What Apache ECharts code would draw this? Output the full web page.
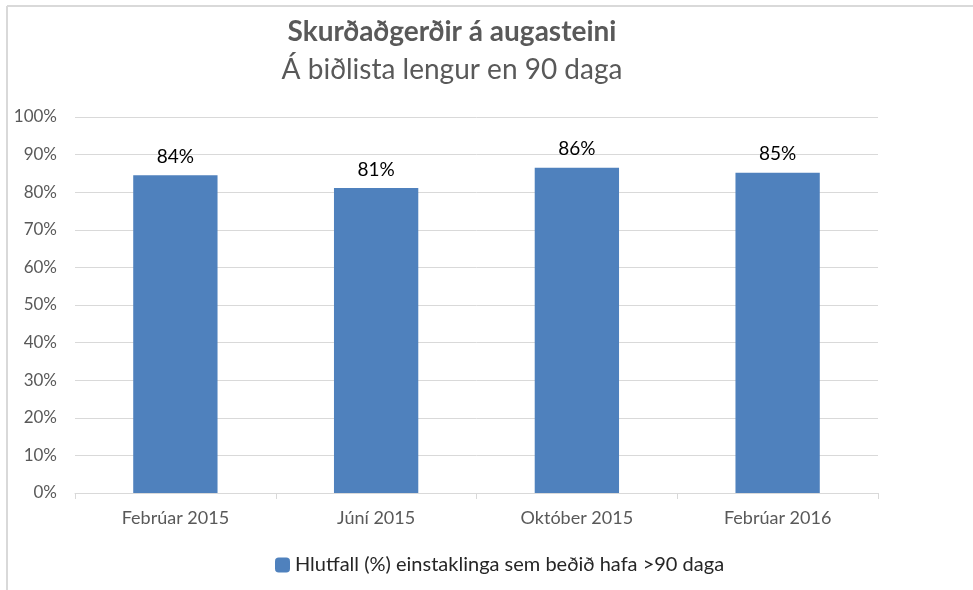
<!DOCTYPE html>
<html>
<head>
<meta charset="utf-8">
<script src="https://cdn.jsdelivr.net/npm/echarts@6/dist/echarts.min.js"></script>
<style>
	html, body { margin: 0; padding: 0; background: #fff; }
	#chart { width: 973px; height: 590px; }
</style>
</head>
<body>
<div id="chart"></div>
<script>
	// data
	var categories = [ 'Febrúar 2015', 'Júní 2015', 'Október 2015', 'Febrúar 2016' ];
	var shareOver90 = [ 84.5, 81.1, 86.5, 85.2 ];
	var seriesName = 'Hlutfall (%) einstaklinga sem beðið hafa >90 daga';
	var titleText = 'Skurðaðgerðir á augasteini';
	var subtitleText = 'Á biðlista lengur en 90 daga';

	var font = 'Lato, "Open Sans", sans-serif';
	var gray = '#595959';
	var lineGray = '#d9d9d9';

	var myChart = echarts.init(document.getElementById('chart'));
	var option = {
		backgroundColor : '#fff',
		textStyle : {
			fontFamily : font
		},
		// frame of the original chart, only top and left edges are visible
		graphic : [ {
			type : 'line',
			shape : { x1 : 7, y1 : 6, x2 : 973, y2 : 6 },
			style : { stroke : lineGray, lineWidth : 2 }
		}, {
			type : 'line',
			shape : { x1 : 7, y1 : 6, x2 : 7, y2 : 590 },
			style : { stroke : lineGray, lineWidth : 2 }
		} ],
		title : [ {
			text : titleText,
			left : 447,
			top : 13,
			textAlign : 'center',
			textStyle : {
				fontFamily : font,
				fontSize : 28,
				fontWeight : 'bold',
				color : gray
			}
		}, {
			text : subtitleText,
			left : 447,
			top : 51,
			textAlign : 'center',
			textStyle : {
				fontFamily : font,
				fontSize : 28,
				fontWeight : 'normal',
				color : gray
			}
		} ],
		legend : {
			left : 270,
			top : 550,
			itemWidth : 15,
			itemHeight : 15,
			icon : 'roundRect',
			textStyle : {
				fontFamily : font,
				fontSize : 20,
				color : '#262626'
			},
			data : [ seriesName ]
		},
		grid : {
			left : 75,
			right : 95,
			top : 117,
			bottom : 97
		},
		xAxis : {
			type : 'category',
			data : categories,
			axisLine : { lineStyle : { color : lineGray, width : 1 } },
			axisTick : { show : true, length : 6, lineStyle : { color : lineGray } },
			axisLabel : {
				color : gray,
				fontSize : 18,
				margin : 16,
				fontFamily : font
			}
		},
		yAxis : {
			type : 'value',
			min : 0,
			max : 100,
			interval : 10,
			axisLine : { show : false },
			axisTick : { show : false },
			splitLine : { lineStyle : { color : lineGray, width : 1 } },
			axisLabel : {
				color : gray,
				fontSize : 17,
				margin : 18,
				fontFamily : font,
				formatter : '{value}%'
			}
		},
		series : [ {
			name : seriesName,
			type : 'bar',
			data : shareOver90,
			barWidth : '42%',
			itemStyle : { color : '#4f81bd' },
			label : {
				show : true,
				position : 'top',
				distance : 9,
				fontSize : 19,
				color : '#000',
				fontFamily : font,
				formatter : function(p) {
					return Math.floor(p.value) + '%';
				}
			}
		} ]
	};
	myChart.setOption(option);
</script>
</body>
</html>
